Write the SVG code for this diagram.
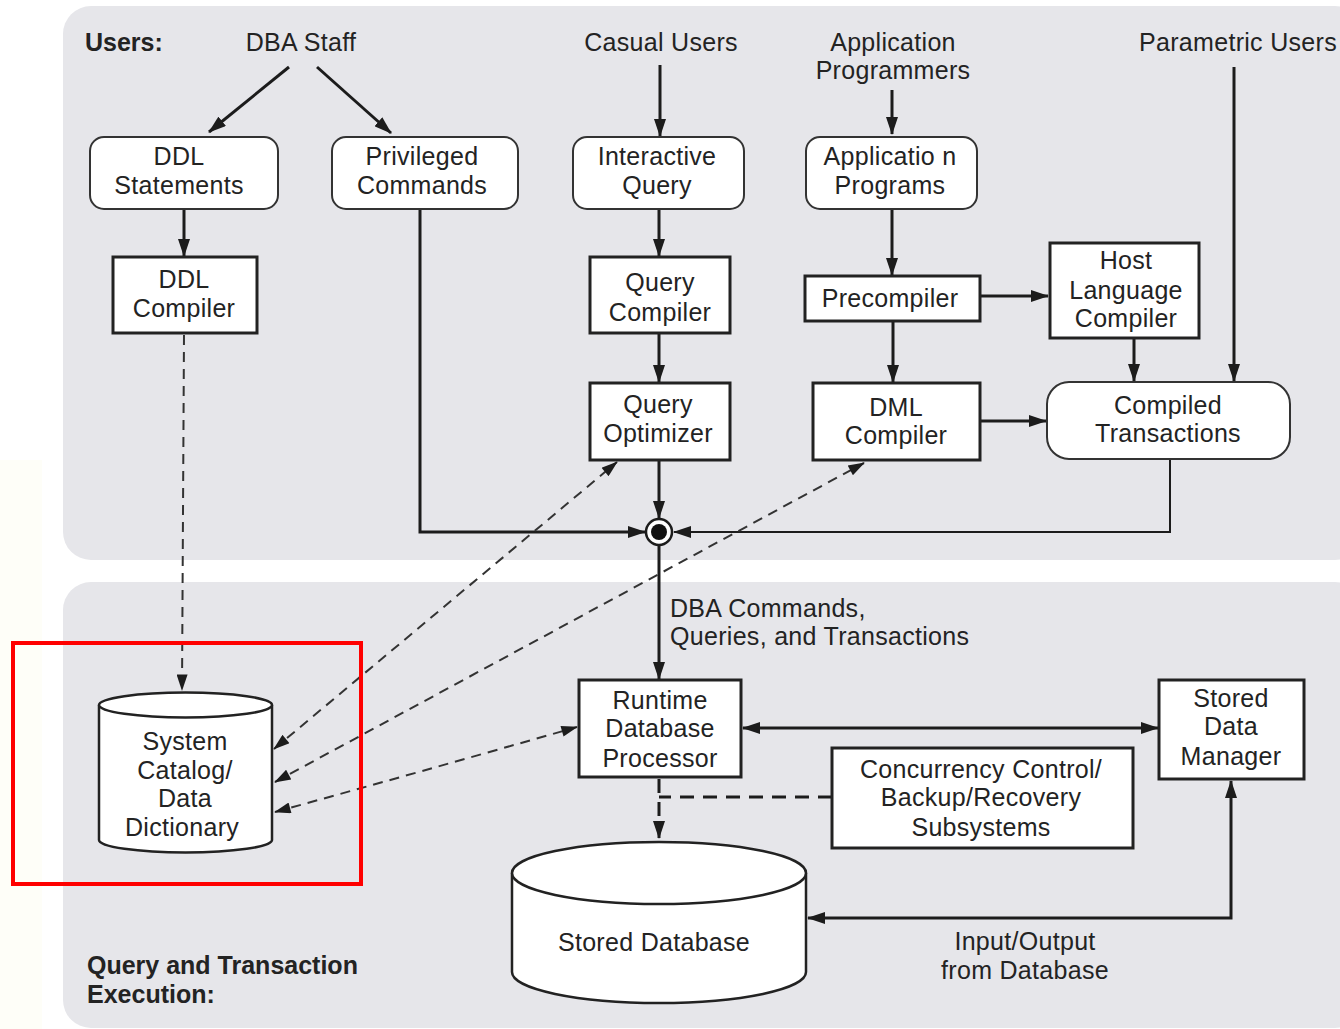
<svg xmlns="http://www.w3.org/2000/svg" width="1340" height="1029" viewBox="0 0 1340 1029">
  <style>
    .t { font-family: "Liberation Sans", Arial, sans-serif; font-size: 25px; fill: #232323; text-anchor: middle; letter-spacing: 0.3px; }
    .b { font-weight: bold; text-anchor: start; letter-spacing: 0; }
    .s { text-anchor: start; }
    .panel { fill: #e6e6ea; }
    .box { fill: #fff; stroke: #222; stroke-width: 3; }
    .rbox { fill: #fff; stroke: #333; stroke-width: 2; }
    .cyl { fill: #fff; stroke: #222; stroke-width: 2.5; }
    .ln { fill: none; stroke: #1c1c1c; stroke-width: 3; }
    .thin { fill: none; stroke: #1c1c1c; stroke-width: 2; }
    .dash { fill: none; stroke: #333; stroke-width: 2; stroke-dasharray: 10 7; }
    .dashb { fill: none; stroke: #1c1c1c; stroke-width: 3; stroke-dasharray: 14 9; }
  </style>
  <defs>
    <marker id="ah" viewBox="0 0 18 12" refX="17" refY="6" markerWidth="18" markerHeight="12" markerUnits="userSpaceOnUse" orient="auto-start-reverse">
      <path d="M0,0 L18,6 L0,12 z" fill="#1c1c1c"/>
    </marker>
    <marker id="ahs" viewBox="0 0 18 12" refX="17" refY="6" markerWidth="18" markerHeight="11" markerUnits="userSpaceOnUse" orient="auto-start-reverse">
      <path d="M0,0 L18,6 L0,12 z" fill="#1c1c1c"/>
    </marker>
  </defs>

  <!-- page -->
  <rect x="0" y="0" width="1340" height="1029" fill="#ffffff"/>
  <rect x="0" y="460" width="42" height="569" fill="#fefef8"/>

  <!-- panels -->
  <g id="users-panel">
    <rect class="panel" x="63" y="6" width="1300" height="554" rx="28"/>
    <text class="t b" x="85" y="51">Users:</text>
  </g>
  <g id="execution-panel">
    <rect class="panel" x="63" y="582" width="1300" height="446" rx="28"/>
    <text class="t b" x="87" y="974">Query and Transaction</text>
    <text class="t b" x="87" y="1003">Execution:</text>
  </g>

  <!-- user labels -->
  <g id="dba-staff"><text class="t" x="301" y="51">DBA Staff</text></g>
  <g id="casual-users"><text class="t" x="661" y="51">Casual Users</text></g>
  <g id="app-programmers">
    <text class="t" x="893" y="51">Application</text>
    <text class="t" x="893" y="79">Programmers</text>
  </g>
  <g id="parametric-users"><text class="t" x="1238" y="51">Parametric Users</text></g>

  <!-- connectors -->
  <g id="connectors">
    <line class="ln" x1="289" y1="67" x2="209" y2="132" marker-end="url(#ah)"/>
    <line class="ln" x1="317" y1="67" x2="391" y2="133" marker-end="url(#ah)"/>
    <line class="ln" x1="184" y1="209" x2="184" y2="256" marker-end="url(#ah)"/>
    <line class="dash" x1="184" y1="335" x2="182" y2="690" marker-end="url(#ahs)"/>
    <polyline class="ln" points="420,209 420,532 645,532" marker-end="url(#ah)"/>
    <line class="ln" x1="660" y1="65" x2="660" y2="136" marker-end="url(#ah)"/>
    <line class="ln" x1="659" y1="209" x2="659" y2="256" marker-end="url(#ah)"/>
    <line class="ln" x1="659" y1="333" x2="659" y2="382" marker-end="url(#ah)"/>
    <line class="ln" x1="659" y1="460" x2="659" y2="518" marker-end="url(#ah)"/>
    <line class="ln" x1="892" y1="90" x2="892" y2="134" marker-end="url(#ah)"/>
    <line class="ln" x1="892" y1="209" x2="892" y2="275" marker-end="url(#ah)"/>
    <line class="ln" x1="980" y1="296" x2="1048" y2="296" marker-end="url(#ah)"/>
    <line class="ln" x1="893" y1="321" x2="893" y2="382" marker-end="url(#ah)"/>
    <line class="ln" x1="1134" y1="338" x2="1134" y2="381" marker-end="url(#ah)"/>
    <line class="ln" x1="1234" y1="67" x2="1234" y2="381" marker-end="url(#ah)"/>
    <line class="ln" x1="980" y1="421" x2="1046" y2="421" marker-end="url(#ah)"/>
    <polyline class="thin" points="1170,459 1170,532 674,532" marker-end="url(#ah)"/>
    <line class="ln" x1="659" y1="545" x2="659" y2="679" marker-end="url(#ah)"/>
    <line class="dash" x1="274" y1="749" x2="617" y2="462" marker-start="url(#ahs)" marker-end="url(#ahs)"/>
    <line class="dash" x1="275" y1="782" x2="864" y2="463" marker-start="url(#ahs)" marker-end="url(#ahs)"/>
    <path class="dash" d="M275,812 Q420,772 577,727" marker-start="url(#ahs)" marker-end="url(#ahs)"/>
    <line class="ln" x1="743" y1="728" x2="1158" y2="728" marker-start="url(#ah)" marker-end="url(#ah)"/>
    <polyline class="dashb" points="832,797 659,797"/>
    <line class="dashb" x1="659" y1="779" x2="659" y2="838" marker-end="url(#ah)"/>
    <polyline class="ln" points="1231,781 1231,918 808,918" marker-start="url(#ah)" marker-end="url(#ah)"/>
  </g>

  <!-- junction -->
  <g id="junction">
    <circle cx="659" cy="532" r="13" fill="#fff" stroke="#1c1c1c" stroke-width="2.5"/>
    <circle cx="659" cy="532" r="8" fill="#111"/>
  </g>

  <!-- nodes -->
  <g id="ddl-statements">
    <rect class="rbox" x="90" y="137" width="188" height="72" rx="14"/>
    <text class="t" x="179" y="165">DDL</text>
    <text class="t" x="179" y="194">Statements</text>
  </g>
  <g id="privileged-commands">
    <rect class="rbox" x="332" y="137" width="186" height="72" rx="14"/>
    <text class="t" x="422" y="165">Privileged</text>
    <text class="t" x="422" y="194">Commands</text>
  </g>
  <g id="interactive-query">
    <rect class="rbox" x="573" y="137" width="171" height="72" rx="14"/>
    <text class="t" x="657" y="165">Interactive</text>
    <text class="t" x="657" y="194">Query</text>
  </g>
  <g id="application-programs">
    <rect class="rbox" x="806" y="137" width="171" height="72" rx="14"/>
    <text class="t" x="890" y="165">Applicatio n</text>
    <text class="t" x="890" y="194">Programs</text>
  </g>
  <g id="ddl-compiler">
    <rect class="box" x="113" y="257" width="144" height="76"/>
    <text class="t" x="184" y="288">DDL</text>
    <text class="t" x="184" y="317">Compiler</text>
  </g>
  <g id="query-compiler">
    <rect class="box" x="590" y="257" width="140" height="76"/>
    <text class="t" x="660" y="291">Query</text>
    <text class="t" x="660" y="321">Compiler</text>
  </g>
  <g id="query-optimizer">
    <rect class="box" x="590" y="383" width="140" height="77"/>
    <text class="t" x="658" y="413">Query</text>
    <text class="t" x="658" y="442">Optimizer</text>
  </g>
  <g id="precompiler">
    <rect class="box" x="805" y="276" width="175" height="45"/>
    <text class="t" x="890" y="307">Precompiler</text>
  </g>
  <g id="host-language-compiler">
    <rect class="box" x="1050" y="243" width="149" height="95"/>
    <text class="t" x="1126" y="269">Host</text>
    <text class="t" x="1126" y="299">Language</text>
    <text class="t" x="1126" y="327">Compiler</text>
  </g>
  <g id="dml-compiler">
    <rect class="box" x="813" y="383" width="167" height="77"/>
    <text class="t" x="896" y="416">DML</text>
    <text class="t" x="896" y="444">Compiler</text>
  </g>
  <g id="compiled-transactions">
    <rect class="rbox" x="1047" y="382" width="243" height="77" rx="22"/>
    <text class="t" x="1168" y="414">Compiled</text>
    <text class="t" x="1168" y="442">Transactions</text>
  </g>

  <g id="dba-commands-label">
    <text class="t s" x="670" y="617">DBA Commands,</text>
    <text class="t s" x="670" y="645">Queries, and Transactions</text>
  </g>

  <g id="system-catalog">
    <path class="cyl" d="M99,705 L99,840 A86.5,12.5 0 0 0 272,840 L272,705"/>
    <ellipse class="cyl" cx="185.5" cy="705" rx="86.5" ry="12.5"/>
    <text class="t" x="185" y="750">System</text>
    <text class="t" x="185" y="779">Catalog/</text>
    <text class="t" x="185" y="807">Data</text>
    <text class="t" x="182" y="836">Dictionary</text>
  </g>
  <g id="runtime-processor">
    <rect class="box" x="579" y="680" width="162" height="97"/>
    <text class="t" x="660" y="709">Runtime</text>
    <text class="t" x="660" y="737">Database</text>
    <text class="t" x="660" y="767">Processor</text>
  </g>
  <g id="stored-data-manager">
    <rect class="box" x="1159" y="680" width="145" height="99"/>
    <text class="t" x="1231" y="707">Stored</text>
    <text class="t" x="1231" y="735">Data</text>
    <text class="t" x="1231" y="765">Manager</text>
  </g>
  <g id="concurrency-control">
    <rect class="box" x="832" y="748" width="301" height="100"/>
    <text class="t" x="981" y="778">Concurrency Control/</text>
    <text class="t" x="981" y="806">Backup/Recovery</text>
    <text class="t" x="981" y="836">Subsystems</text>
  </g>
  <g id="stored-database">
    <path class="cyl" d="M512,873 L512,972 A147,31 0 0 0 806,972 L806,873"/>
    <ellipse class="cyl" cx="659" cy="873" rx="147" ry="31"/>
    <text class="t" x="654" y="951">Stored Database</text>
  </g>
  <g id="io-label">
    <text class="t" x="1025" y="950">Input/Output</text>
    <text class="t" x="1025" y="979">from Database</text>
  </g>

  <!-- highlight frame -->
  <rect x="13" y="643" width="348" height="241" fill="none" stroke="#ff0000" stroke-width="4"/>
</svg>
